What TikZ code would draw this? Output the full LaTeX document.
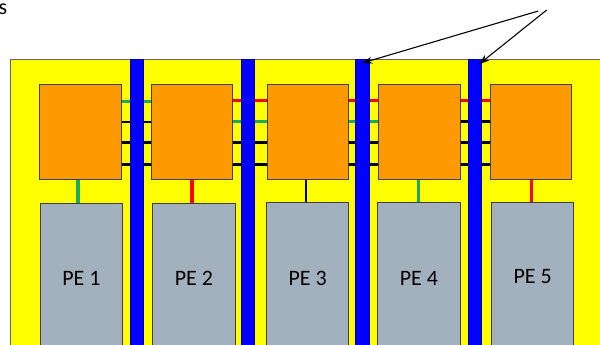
\documentclass[tikz,border=0pt]{standalone}
\usepackage{fontspec}
\setmainfont{Carlito}
\usetikzlibrary{arrows.meta,calc}
\definecolor{yel}{HTML}{FFFF00}
\definecolor{org}{HTML}{FF9900}
\definecolor{peg}{HTML}{A3B1BF}
\definecolor{bluebar}{HTML}{0000FF}
\definecolor{grn}{HTML}{1FA960}
\definecolor{rd}{HTML}{FF0000}
\definecolor{edge}{HTML}{3F3F3F}
\tikzset{
  box/.style={draw=edge,line width=1pt,inner sep=0pt,anchor=north west},
  router/.style={box,fill=org},
  pebox/.style={box,fill=peg},
  bus/.style={draw=#1!70!black,line width=0.6pt,fill=#1,inner sep=0pt,anchor=north west},
  gline/.style={draw=grn,line width=3.5pt},
  rline/.style={draw=rd,line width=3.5pt},
  kline/.style={draw=black,line width=2.4pt},
  lbl/.style={font=\fontsize{22}{26}\selectfont,inner sep=0pt},
  ptr/.style={draw=black,line width=1.1pt,-{Stealth[length=10pt,width=7pt]}}
}
\begin{document}
\begin{tikzpicture}[x=1pt,y=-1pt]
\clip (0,0) rectangle (600,345);
\fill[white] (0,0) rectangle (600,345);
% background
\node[draw=edge!80,line width=1pt,fill=yel,inner sep=0pt,anchor=north west,minimum width=620pt,minimum height=320pt] (bg) at (10,59) {};
% routers
\node[router,minimum width=81.7pt,minimum height=94.7pt] (o1) at (39.3,84.3) {};
\node[router,minimum width=81.3pt,minimum height=94.7pt] (o2) at (151,84.3) {};
\node[router,minimum width=81.6pt,minimum height=94.7pt] (o3) at (266.7,84.3) {};
\node[router,minimum width=81.4pt,minimum height=94.7pt] (o4) at (378.3,84.3) {};
\node[router,minimum width=81.3pt,minimum height=94.7pt] (o5) at (489.7,84.3) {};
% horizontal links
\begin{scope}[on background layer/.style={}]
\draw[gline] (o1.east |- 0,101.5) -- (o2.west |- 0,101.5);
\draw[kline] (o1.east |- 0,121.7) -- (o2.west |- 0,121.7);
\draw[kline] (o1.east |- 0,142.3) -- (o2.west |- 0,142.3);
\draw[kline] (o1.east |- 0,164.3) -- (o2.west |- 0,164.3);
\draw[rline] (o2.east |- 0,100.5) -- (o3.west |- 0,100.5);
\draw[gline] (o2.east |- 0,121.5) -- (o3.west |- 0,121.5);
\draw[kline] (o2.east |- 0,142.3) -- (o3.west |- 0,142.3);
\draw[kline] (o2.east |- 0,164.3) -- (o3.west |- 0,164.3);
\draw[rline] (o3.east |- 0,100.5) -- (o4.west |- 0,100.5);
\draw[gline] (o3.east |- 0,121.5) -- (o4.west |- 0,121.5);
\draw[kline] (o3.east |- 0,142.3) -- (o4.west |- 0,142.3);
\draw[kline] (o3.east |- 0,164.3) -- (o4.west |- 0,164.3);
\draw[rline] (o4.east |- 0,100.5) -- (o5.west |- 0,100.5);
\draw[kline] (o4.east |- 0,121.5) -- (o5.west |- 0,121.5);
\draw[kline] (o4.east |- 0,142.3) -- (o5.west |- 0,142.3);
\draw[kline] (o4.east |- 0,164.3) -- (o5.west |- 0,164.3);
\end{scope}
% buses
\node[bus=bluebar,minimum width=13pt,minimum height=300pt] (b1) at (130,59) {};
\node[bus=bluebar,minimum width=13pt,minimum height=300pt] (b2) at (241,59) {};
\node[bus=bluebar,minimum width=14pt,minimum height=300pt] (b3) at (355,59) {};
\node[bus=bluebar,minimum width=13pt,minimum height=300pt] (b4) at (468,59) {};
% PEs
\node[pebox,minimum width=82.2pt,minimum height=200pt] (p1) at (39.8,202.7) {};
\node[pebox,minimum width=82.3pt,minimum height=200pt] (p2) at (152.3,202.7) {};
\node[pebox,minimum width=82.3pt,minimum height=200pt] (p3) at (266,201.7) {};
\node[pebox,minimum width=82.3pt,minimum height=200pt] (p4) at (377.3,201.7) {};
\node[pebox,minimum width=82.3pt,minimum height=200pt] (p5) at (491,201.7) {};
\node[lbl] (l1) at (p1.north |- 0,278) {PE 1};
\node[lbl] (l2) at (p2.north |- 0,278) {PE 2};
\node[lbl] (l3) at (p3.north |- 0,278) {PE 3};
\node[lbl] (l4) at (p4.north |- 0,278) {PE 4};
\node[lbl] (l5) at (p5.north |- 0,277) {PE 5};
% vertical links
\draw[gline] (o1.south -| 78,0) -- (p1.north -| 78,0);
\draw[rline] (o2.south -| 192,0) -- (p2.north -| 192,0);
\draw[kline] (o3.south -| 305.7,0) -- (p3.north -| 305.7,0);
\draw[gline] (o4.south -| 418.7,0) -- (p4.north -| 418.7,0);
\draw[rline] (o5.south -| 531.3,0) -- (p5.north -| 531.3,0);
% pointers
\coordinate (s1) at (538.3,11);
\coordinate (s2) at (546.7,10);
\draw[ptr] (s1) -- ($(b3.north)+(0,4)$);
\draw[ptr] (s2) -- ($(b4.north)+(4.5,5)$);
% cut-off text
\node[lbl,anchor=base east] (txt) at (7.5,15) {s};
\end{tikzpicture}
\end{document}
